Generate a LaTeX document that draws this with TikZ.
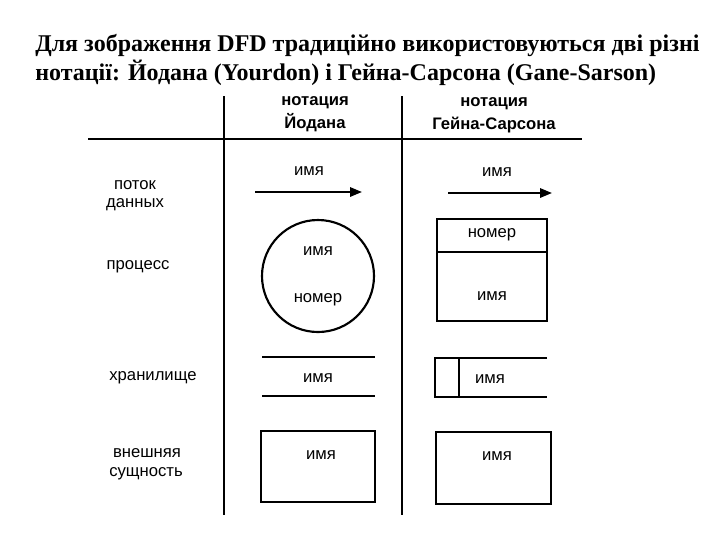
\documentclass[tikz,border=0pt]{standalone}
\usepackage{fontspec}
\setmainfont{Liberation Serif}
\newfontfamily\lsans{Liberation Sans}
\usetikzlibrary{arrows.meta}
\begin{document}
\begin{tikzpicture}[x=0.75pt,y=-0.75pt,
  ln/.style={line width=1.6pt},
  lab/.style={font=\lsans\fontsize{12.5}{13}\selectfont,inner sep=0pt},
  hdr/.style={font=\lsans\bfseries\fontsize{12.5}{13}\selectfont,inner sep=0pt},
  ttl/.style={font=\bfseries\fontsize{18}{20}\selectfont,inner sep=0pt,anchor=west}]
\useasboundingbox (0,0) rectangle (720,540);
\node[ttl] (t1) at (35,45) {Для зображення DFD традиційно використовуються дві різні};
\node[ttl] (t2) at (35,73) {нотації: Йодана (Yourdon) і Гейна-Сарсона (Gane-Sarson)};
% grid
\coordinate (v1a) at (224,96); \coordinate (v1b) at (224,515);
\coordinate (v2a) at (402,96); \coordinate (v2b) at (402,515);
\coordinate (ha) at (88,139); \coordinate (hb) at (582,139);
\draw[ln] (v1a) -- (v1b);
\draw[ln] (v2a) -- (v2b);
\draw[ln] (ha) -- (hb);
% headers
\node[hdr] (h1a) at (315,103) {нотация};
\node[hdr] (h1b) at (315,123) {Йодана};
\node[hdr] (h2a) at (494,104) {нотация};
\node[hdr] (h2b) at (494,125) {Гейна-Сарсона};
% row labels
\node[lab] (r1a) at (135,185) {поток};
\node[lab] (r1b) at (135,205) {данных};
\node[lab] (r2) at (138,267) {процесс};
\node[lab] (r3) at (153,378) {хранилище};
\node[lab] (r4a) at (147,453) {внешняя};
\node[lab] (r4b) at (146,474) {сущность};
% flows
\coordinate (f1a) at (255,192); \coordinate (f1b) at (362,192);
\draw[ln,-{Triangle[length=9pt,width=7pt]}] (f1a) -- (f1b);
\node[lab] (f1l) at (309,171) {имя};
\coordinate (f2a) at (448,193); \coordinate (f2b) at (552,193);
\draw[ln,-{Triangle[length=9pt,width=7pt]}] (f2a) -- (f2b);
\node[lab] (f2l) at (497,172) {имя};
% process
\node[ln,draw,circle,minimum size=112*0.75pt,inner sep=0pt] (pc) at (318,276) {};
\node[lab] (pc1) at (318,251) {имя};
\node[lab] (pc2) at (318,300) {номер};
\node[ln,draw,rectangle,minimum width=110*0.75pt,minimum height=102*0.75pt,inner sep=0pt] (pr) at (492,270) {};
\coordinate (prd1) at (437,252); \coordinate (prd2) at (547,252);
\draw[ln] (prd1) -- (prd2);
\node[lab] (pr1) at (492,235) {номер};
\node[lab] (pr2) at (492,296) {имя};
% stores
\coordinate (s1a) at (262,357); \coordinate (s1b) at (375,357);
\coordinate (s1c) at (262,396); \coordinate (s1d) at (375,396);
\draw[ln] (s1a) -- (s1b); \draw[ln] (s1c) -- (s1d);
\node[lab] (s1l) at (318,378) {имя};
\coordinate (s2a) at (547,358); \coordinate (s2b) at (435,358);
\coordinate (s2c) at (435,397); \coordinate (s2d) at (547,397);
\coordinate (s2e) at (459,358); \coordinate (s2f) at (459,397);
\draw[ln] (s2a) -- (s2b) -- (s2c) -- (s2d);
\draw[ln] (s2e) -- (s2f);
\node[lab] (s2l) at (490,379) {имя};
% externals
\node[ln,draw,rectangle,minimum width=114*0.75pt,minimum height=71*0.75pt,inner sep=0pt] (e1) at (318,466.5) {};
\node[lab] (e1l) at (321,455) {имя};
\node[draw,line width=2pt,rectangle,minimum width=115*0.75pt,minimum height=72*0.75pt,inner sep=0pt] (e2) at (493.5,468) {};
\node[lab] (e2l) at (497,456) {имя};
\end{tikzpicture}
\end{document}
